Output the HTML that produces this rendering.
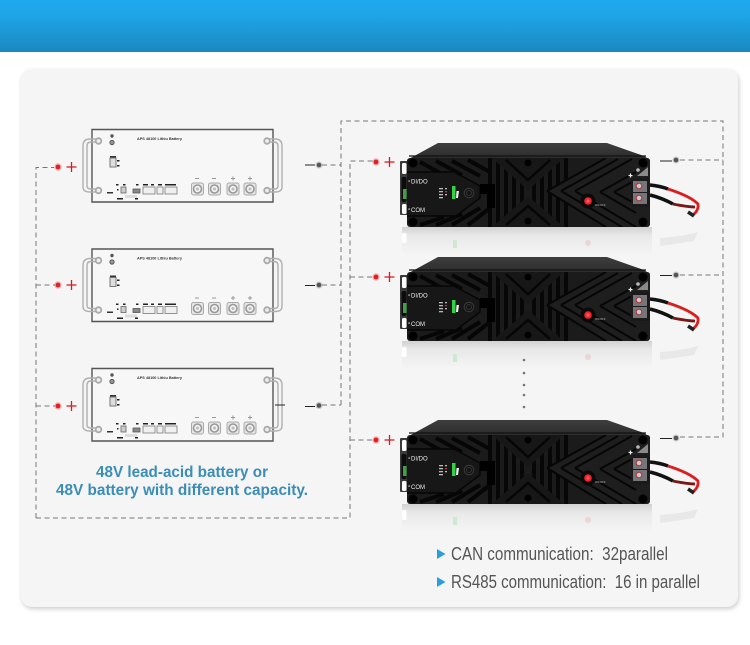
<!DOCTYPE html>
<html><head><meta charset="utf-8">
<style>
html,body{margin:0;padding:0;background:#fff}
#w{position:relative;width:750px;height:645px;overflow:hidden;background:#fff;font-family:"Liberation Sans",sans-serif}
#h{position:absolute;left:0;top:0;width:750px;height:52px;background:linear-gradient(#1ea9ee,#1ea5e8 30%,#1b89bf)}
#p{position:absolute;left:21px;top:69px;width:717px;height:538px;border-radius:11px;background:#f5f5f5;box-shadow:1px 2px 5px rgba(0,0,0,.2)}
svg{position:absolute;left:0;top:0}
</style></head><body><div id="w"><div id="h"></div><div id="p"></div>
<svg width="750" height="645" viewBox="0 0 750 645" xmlns="http://www.w3.org/2000/svg" font-family="Liberation Sans, sans-serif">
<defs>
<linearGradient id="top" x1="0" y1="0" x2="0" y2="1"><stop offset="0" stop-color="#3e3e3e"/><stop offset="1" stop-color="#2a2a2a"/></linearGradient>
<linearGradient id="ref" x1="0" y1="0" x2="0" y2="1"><stop offset="0" stop-color="#d2d2d2"/><stop offset=".3" stop-color="#e8e8e8"/><stop offset="1" stop-color="#f5f5f5"/></linearGradient>
<clipPath id="fr"><rect x="407" y="158" width="243" height="69" rx="3"/></clipPath>
<g id="term"><rect x="-6" y="-6" width="12" height="12" rx="2" fill="#e6e6e6" stroke="#aaa"/><circle r="4" fill="#f2f2f2" stroke="#999" stroke-width="1.6"/><circle r="1.5" fill="#bbb"/></g>
<g id="bat">
 <path d="M92 129.500H273V202H92Z" fill="#f7f7f7" stroke="#555" stroke-width="1.400"/>
 <g fill="none" stroke="#b0b0b0" stroke-width="1.400">
  <path d="M99 139H90Q83 139 83 146V187Q83 192 90 192H99M99 142H91Q87 142 87 146V186Q87 189 91 189H99"/>
  <path d="M266 139H275Q282 139 282 146V187Q282 192 275 192H266M266 142H274Q278 142 278 146V186Q278 189 274 189H266"/>
 </g>
 <g fill="#eee" stroke="#aaa" stroke-width="1.800"><circle cx="98.500" cy="141" r="2.800"/><circle cx="98.500" cy="190.500" r="2.800"/><circle cx="267" cy="141" r="2.800"/><circle cx="267" cy="190.500" r="2.800"/></g>
 <circle cx="112" cy="136" r="1.700" fill="#555"/><circle cx="112" cy="142.500" r="2.100" fill="#999" stroke="#555"/>
 <rect x="110" y="158" width="6" height="9" fill="#ddd" stroke="#777"/><rect x="110" y="156" width="6" height="1.500" fill="#333"/>
 <rect x="117" y="160" width="2.500" height="1.500" fill="#222"/><rect x="117" y="165" width="2.500" height="1.500" fill="#222"/>
 <rect x="107" y="192" width="6" height="1.500" fill="#333"/>
 <g fill="#222"><rect x="116" y="184" width="2.500" height="1.500"/><rect x="123" y="184" width="2.500" height="1.500"/><rect x="136" y="184" width="2.500" height="1.500"/><rect x="143" y="184" width="5" height="1.500"/><rect x="151" y="184" width="3" height="1.500"/><rect x="158" y="184" width="4" height="1.500"/><rect x="165" y="184" width="11" height="1.500"/><rect x="117" y="189" width="1.500" height="1.500"/><rect x="117" y="198" width="6" height="1.500"/><rect x="135" y="198" width="3" height="1.500"/></g>
 <rect x="121" y="187" width="5" height="6" fill="#ccc" stroke="#666" stroke-width=".8"/>
 <rect x="133" y="189" width="7" height="4" fill="#888" stroke="#555" stroke-width=".8"/>
 <g fill="#f0f0f0" stroke="#888" stroke-width=".9"><rect x="143" y="187" width="12" height="7"/><rect x="157" y="187" width="6" height="7"/><rect x="165" y="187" width="12" height="7"/></g>
 <rect x="125" y="195" width="12" height="3" fill="#ddd"/>
 <g fill="#999"><rect x="195" y="178" width="4" height="1"/><rect x="212" y="178" width="4" height="1"/><rect x="231" y="178" width="4" height="1"/><rect x="248" y="178" width="4" height="1"/><rect x="232.500" y="176.500" width="1" height="4"/><rect x="249.500" y="176.500" width="1" height="4"/></g>
 <use href="#term" x="197.500" y="189"/><use href="#term" x="214.500" y="189"/><use href="#term" x="233" y="189"/><use href="#term" x="250" y="189"/>
</g>
<g id="inv">
 <rect x="402" y="227" width="250" height="28" fill="url(#ref)"/>
 <rect x="402" y="233" width="4.500" height="10" rx="1.500" fill="#fff"/>
 <rect x="453" y="240" width="4" height="8" fill="#cfe8d2"/>
 <circle cx="588" cy="243" r="3" fill="#ead6d6"/>
 <path d="M660 238Q685 236 698 232L694 241Q675 244 660 246Z" fill="#e8e8e8"/>
 <rect x="400" y="161" width="8" height="54" rx="1" fill="#3a3a3a"/>
 <rect x="402" y="163" width="4.500" height="11" rx="1.500" fill="#fff"/>
 <rect x="401.500" y="177" width="5" height="25" rx="2" fill="#0c0c0c"/>
 <rect x="403" y="189" width="3.500" height="10" fill="#3fa045"/>
 <rect x="402" y="204" width="4.500" height="10" rx="1.500" fill="#fff"/>
 <path d="M407 160L438 143H607L644 156L650 160Z" fill="url(#top)"/>
 <path d="M409 156H646" stroke="#111" stroke-width="1.200"/>
 <rect x="407" y="158" width="243" height="69" rx="3" fill="#1b1b1b"/>
 <g clip-path="url(#fr)">
  <g stroke="#070707" stroke-width="4" fill="none">
   <path d="M490 158V227M498 158V227M506 158V227M514 158V227M522 158V227M534 158V227M542 158V227M550 158V227M558 158V227M566 158V227"/>
  </g>
  <path d="M492 158L528 190L564 158ZM492 227L528 196L564 227Z" fill="#171717"/>
  <g stroke="#060606" stroke-width="2.500" fill="none"><path d="M506 160L528 180L550 160M506 225L528 206L550 225"/></g>
  <path d="M547 191L606 158H650V227H606Z" fill="#1e1e1e"/>
  <g stroke="#060606" stroke-width="2" fill="none">
   <path d="M547 191L606 158M547 191L606 227"/>
   <path d="M561 191L618 159M561 191L622 227"/>
   <path d="M575 191L632 159M575 191L636 227"/>
   <path d="M600 192L636 172M600 192L636 213"/>
   <path d="M614 192L632 182M614 192L632 202"/>
  </g>
  <g stroke="#060606" stroke-width="4" fill="none">
   <path d="M420 162L442 174M436 161L462 175M452 161L480 176M468 160L490 172"/>
   <path d="M420 225L444 217M436 225L462 214M452 225L480 208M468 225L490 208"/>
  </g>
  <path d="M407 172H454L480 186V198L456 216H407Z" fill="#171717"/>
  <path d="M407 172H454L480 186V198L456 216H407" fill="none" stroke="#060606" stroke-width="1.500"/>
 </g>
 <g fill="#000"><circle cx="413" cy="163" r="4.500"/><circle cx="643" cy="163" r="4.500"/><circle cx="413" cy="222" r="4.500"/><circle cx="643" cy="222" r="4.500"/><circle cx="528" cy="163" r="3.500"/><circle cx="528" cy="221" r="3.500"/></g>
 <rect x="480" y="184" width="8" height="10" fill="#000"/><rect x="487" y="184" width="8" height="24" fill="#000"/>
 <g fill="#bbb"><rect x="439" y="188" width="4" height="1.300"/><rect x="439" y="191" width="4" height="1.300"/><rect x="439" y="194" width="4" height="1.300"/><rect x="439" y="197" width="4" height="1.300"/><rect x="445" y="188" width="2" height="1.300"/><rect x="445" y="194" width="2" height="1.300"/></g>
 <rect x="445" y="191" width="2" height="1.300" fill="#c33"/>
 <rect x="452" y="186" width="3.500" height="13" fill="#36d048"/>
 <path d="M456.500 191h2.500l-1 7h-2z" fill="#eee"/>
 <circle cx="469" cy="193" r="4.800" fill="#151515" stroke="#3a3a3a"/><circle cx="469" cy="193" r="2.500" fill="none" stroke="#333"/>
 <rect x="408.500" y="180.500" width="1.200" height="1.200" fill="#fff"/><rect x="408.500" y="208.500" width="1.200" height="1.200" fill="#fff"/>
 <circle cx="588" cy="201" r="7.500" fill="#0a0a0a"/><circle cx="588" cy="201" r="3.800" fill="#f2222c"/><circle cx="588" cy="201" r="1.600" fill="#ff5a55"/>
 <path d="M637 176L648 167V176Z" fill="#8a8a8a"/><circle cx="638" cy="170" r="1.800" fill="#bbb"/>
 <path d="M632.500 175.500h-4M630.500 173.500v4" stroke="#eee" stroke-width="1.200"/>
 <rect x="631" y="178" width="19" height="29" fill="#1a1a1a"/>
 <rect x="633" y="181" width="14" height="11" fill="#76757a"/><rect x="633" y="193" width="14" height="11" fill="#76757a"/>
 <circle cx="639" cy="186" r="2.800" fill="#cfc8c8" stroke="#a33"/><circle cx="639" cy="198" r="2.800" fill="#cfc8c8" stroke="#a33"/>
 <g fill="none">
  <path d="M650 185Q660 186 668 189" stroke="#111" stroke-width="3.500"/>
  <path d="M668 189Q690 196 698 204Q699 210 693 215" stroke="#d92020" stroke-width="2.800"/>
  <path d="M650 195Q662 198 673 204" stroke="#111" stroke-width="3.500"/>
  <path d="M673 204Q688 207 695 207" stroke="#7d1616" stroke-width="2.800"/>
  <path d="M688 212L694 216" stroke="#222" stroke-width="3.500"/>
 </g>
</g>
<g id="dot"><circle r="3.500" fill="#777" opacity=".35"/><circle r="2.300" fill="#555"/></g>
<g id="rd"><circle r="3.700" fill="#f04040" opacity=".35"/><circle r="2.400" fill="#e02028"/><path d="M8.500 0H18.500M13.500 -5V5" stroke="#d81a22" stroke-width="1.300"/></g>
</defs>

<use href="#bat"/><use href="#bat" y="119.500"/><use href="#bat" y="239"/>
<g font-size="3.800" fill="#333" font-weight="bold"><text x="137" y="140">APS 48100 Lithiu  Battery</text><text x="137" y="259.500">APS 48100 Lithiu  Battery</text><text x="137" y="379">APS 48100 Lithiu  Battery</text></g>

<use href="#inv"/><use href="#inv" y="114"/><use href="#inv" y="277"/>
<g font-size="6" fill="#eee"><text x="411" y="183.500">DI/DO</text><text x="411" y="212">COM</text><text x="411" y="297.500">DI/DO</text><text x="411" y="326">COM</text><text x="411" y="460.500">DI/DO</text><text x="411" y="489">COM</text></g>
<g font-size="2.800" fill="#bbb"><text x="595" y="206">ON/OFF</text><text x="595" y="320">ON/OFF</text><text x="595" y="483">ON/OFF</text></g>

<g fill="none" stroke="#777" stroke-width="1" stroke-dasharray="5 3.500">
 <path d="M36 518V167.500H54M36 518H350V161H375"/>
 <path d="M36 285H55M36 406H55"/>
 <path d="M350 277H373M350 440H373"/>
 <path d="M322 165H341M322 285H341M322 405H341"/>
 <path d="M341 405V121H723V437H680"/>
 <path d="M680 160H723M680 275H723"/>
</g>
<g stroke="#222" stroke-width="1.100"><path d="M305 165H315M305 285.500H315M305 406.500H315M275 405H285M660 161H672M660 275.500H672M660 438.500H672"/></g>
<use href="#rd" x="58" y="167"/><use href="#rd" x="58" y="285"/><use href="#rd" x="58" y="406"/>
<use href="#rd" x="376" y="162"/><use href="#rd" x="376" y="277"/><use href="#rd" x="376" y="440"/>
<use href="#dot" x="319" y="165"/><use href="#dot" x="319" y="285"/><use href="#dot" x="319" y="405.500"/>
<use href="#dot" x="676" y="160"/><use href="#dot" x="676" y="275"/><use href="#dot" x="676" y="438"/>
<g fill="#777"><circle cx="524" cy="360" r="1.300"/><circle cx="524" cy="373" r="1.300"/><circle cx="524" cy="385" r="1.300"/><circle cx="524" cy="395" r="1.300"/><circle cx="524" cy="407" r="1.300"/></g>

<g font-size="16" font-weight="bold" fill="#3b8db8">
 <text x="96" y="477" textLength="172" lengthAdjust="spacingAndGlyphs">48V lead-acid battery or</text>
 <text x="56" y="495" textLength="252" lengthAdjust="spacingAndGlyphs">48V battery with different capacity.</text>
</g>
<path d="M437 549L445.500 554L437 559ZM437 577L445.500 582L437 587Z" fill="#2a9fdf"/>
<g font-size="18" fill="#555">
 <text x="451" y="560" textLength="217" lengthAdjust="spacingAndGlyphs" xml:space="preserve">CAN communication:  32parallel</text>
 <text x="451" y="588" textLength="249" lengthAdjust="spacingAndGlyphs" xml:space="preserve">RS485 communication:  16 in parallel</text>
</g>
</svg></div></body></html>
